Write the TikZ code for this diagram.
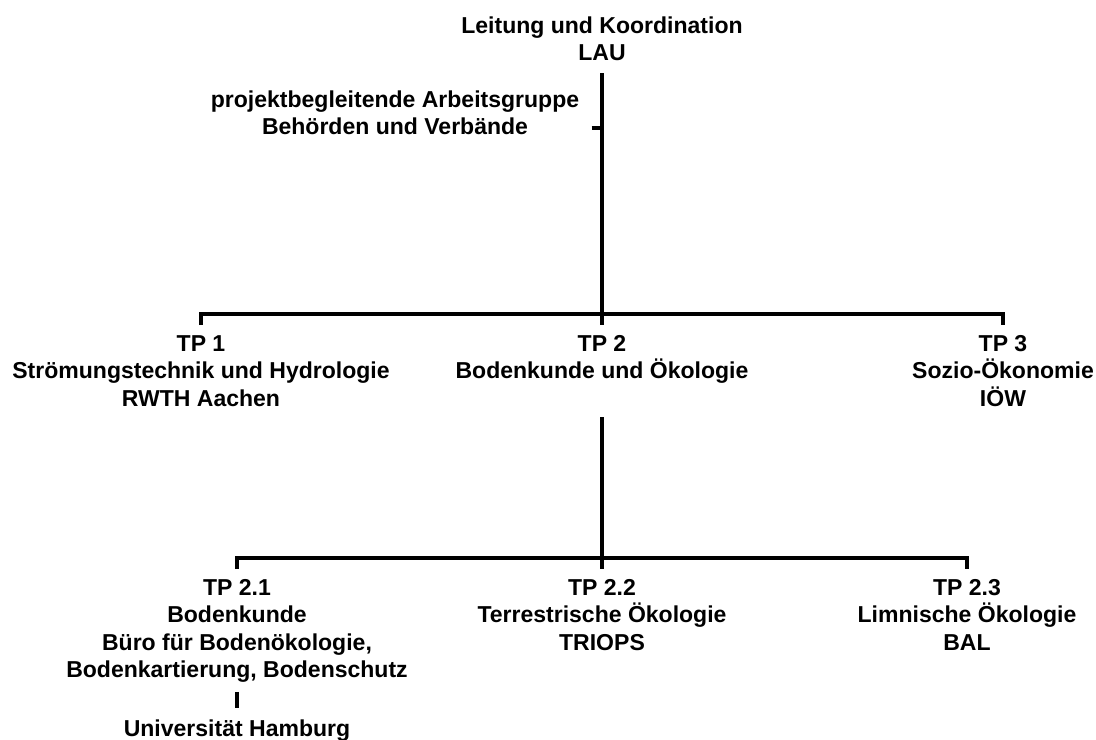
\documentclass[tikz,border=0pt]{standalone}
\usepackage{fontspec}
\setmainfont{Liberation Sans}
\usepackage{tikz}
\usetikzlibrary{positioning, calc}

\tikzset{
    orgtext/.style={inner sep=0pt, anchor=north, align=center,
          font=\fontsize{13.1pt}{15.6pt}\selectfont\bfseries},
    bracket/.style={line width=2pt, black}
}

\begin{document}
\begin{tikzpicture}[x=0.02cm, y=-0.02cm]
    \useasboundingbox (0,0) rectangle (1096,740);

    % Leitung
    \node[orgtext] (lead) at (602,16) {Leitung und Koordination\\LAU};
    \node[orgtext] (pag) at (395,90) {projektbegleitende Arbeitsgruppe\\Behörden und Verbände};

    % Teilprojekte
    \node[orgtext] (tp1) at (201,335) {TP 1\\Strömungstechnik und Hydrologie\\RWTH Aachen};
    \node[orgtext] (tp2) at (602,335) {TP 2\\Bodenkunde und Ökologie};
    \node[orgtext] (tp3) at (1003,335) {TP 3\\Sozio-Ökonomie\\IÖW};

    % Teilprojekte von TP 2
    \node[orgtext] (tp21) at (237,579) {TP 2.1\\Bodenkunde\\Büro für Bodenökologie,\\Bodenkartierung, Bodenschutz};
    \node[orgtext] (tp22) at (602,579) {TP 2.2\\Terrestrische Ökologie\\TRIOPS};
    \node[orgtext] (tp23) at (967,579) {TP 2.3\\Limnische Ökologie\\BAL};
    \node[orgtext] (uhh) at (237,719) {Universität Hamburg};

    \coordinate (j1) at (602,314);
    \coordinate (j2) at (602,558);
    \coordinate (pagtick) at (602,128);

    % Verbindungen
    \draw[bracket] ([yshift=-.24cm]lead.south) -- (j1);
    \draw[bracket] ([xshift=.24cm]pag.east |- pagtick) -- (pagtick);
    \draw[bracket] ([yshift=.2cm]tp1.north) |- (j1) -| ([yshift=.2cm]tp3.north);
    \draw[bracket] (j1) -- ([yshift=.2cm]tp2.north);

    \draw[bracket] (tp2.south |- 0,417) -- (j2);
    \draw[bracket] ([yshift=.2cm]tp21.north) |- (j2) -| ([yshift=.2cm]tp23.north);
    \draw[bracket] (j2) -- ([yshift=.2cm]tp22.north);
    \draw[bracket] ([yshift=-.18cm]tp21.south) -- ([yshift=.22cm]uhh.north);
\end{tikzpicture}
\end{document}
